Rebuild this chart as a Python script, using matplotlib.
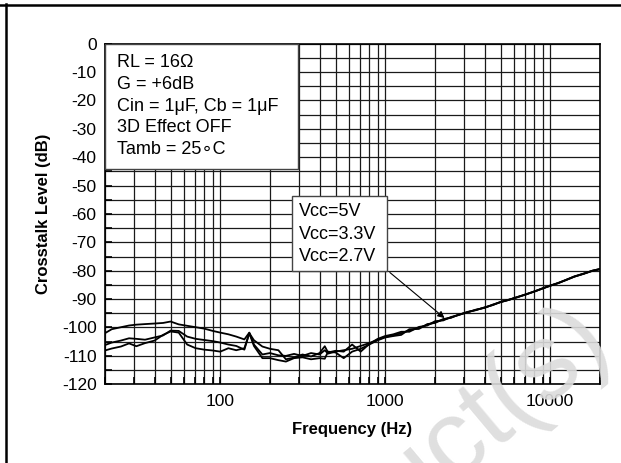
import numpy as np
import matplotlib
matplotlib.use("Agg")
import matplotlib.pyplot as plt
from matplotlib import ticker
from matplotlib.patches import Rectangle
from matplotlib.lines import Line2D

plt.rcParams['font.family'] = ['Liberation Sans', 'DejaVu Sans']
plt.rcParams['axes.unicode_minus'] = False

# frequency points (Hz)
freq = [20, 22, 25, 28, 31, 35, 40, 45, 50, 56, 63, 71, 80, 90, 100, 112, 125, 140,
        150, 160, 180, 200, 225, 250, 280, 315, 355, 400, 430, 450, 500, 560, 630,
        710, 800, 900, 1000, 1120, 1250, 1400, 1600, 1800, 2000, 2250, 2500, 2800,
        3150, 3550, 4000, 4500, 5000, 5600, 6300, 7100, 8000, 9000, 10000, 11200,
        12500, 14000, 16000, 18000, 20000]

# crosstalk level (dB) for the three supply voltages
vcc_5v = [-102.0, -100.6, -99.9, -99.3, -99.0, -98.8, -98.6, -98.4, -97.9, -98.9,
          -99.4, -99.9, -100.4, -101.2, -101.8, -102.4, -103.2, -104.2, -101.8,
          -106.0, -109.5, -109.0, -109.8, -110.0, -109.3, -110.0, -109.0, -109.5,
          -108.0, -109.2, -108.5, -108.0, -107.5, -106.5, -105.5, -104.3, -103.3,
          -102.8, -102.0, -101.0, -100.2, -99.0, -98.2, -97.2, -96.5, -95.5, -94.6,
          -93.8, -93.0, -92.0, -91.0, -90.3, -89.3, -88.4, -87.3, -86.2, -85.3,
          -84.3, -83.2, -82.1, -81.0, -80.0, -79.4]
vcc_3v3 = [-106.2, -105.3, -104.6, -103.8, -104.0, -104.3, -103.5, -102.8, -101.1,
           -101.2, -103.2, -104.0, -104.4, -104.8, -105.3, -106.0, -106.5, -107.8,
           -102.0, -104.5, -106.7, -107.5, -108.0, -111.2, -110.6, -109.5, -110.2,
           -109.0, -106.6, -108.8, -108.2, -108.5, -106.0, -108.5, -105.8, -104.0,
           -103.0, -102.4, -101.5, -101.5, -99.8, -99.3, -97.8, -97.5, -96.3, -95.6,
           -94.5, -93.9, -92.9, -92.1, -91.0, -90.2, -89.4, -88.3, -87.4, -86.2,
           -85.2, -84.4, -83.2, -82.0, -81.0, -80.1, -79.5]
vcc_2v7 = [-108.1, -107.4, -106.7, -105.6, -106.6, -105.5, -104.6, -102.6, -101.4,
           -101.8, -106.0, -107.3, -107.8, -108.1, -108.5, -107.3, -108.0, -107.3,
           -102.0, -106.5, -110.8, -110.8, -111.5, -112.0, -110.8, -110.5, -111.2,
           -110.8, -111.0, -108.5, -108.8, -110.8, -108.5, -107.5, -106.0, -104.5,
           -103.5, -103.0, -102.6, -100.6, -100.5, -98.8, -98.4, -97.0, -96.6, -95.4,
           -94.7, -93.7, -93.1, -91.9, -91.1, -90.3, -89.3, -88.4, -87.3, -86.3,
           -85.3, -84.3, -83.3, -82.1, -81.1, -80.0, -79.4]

legend_lines = ["RL = 16\u03a9", "G = +6dB", "Cin = 1\u03bcF, Cb = 1\u03bcF",
                "3D Effect OFF", "Tamb = 25\u2218C"]
vcc_labels = ["Vcc=5V", "Vcc=3.3V", "Vcc=2.7V"]

fig = plt.figure(figsize=(6.21, 4.63), dpi=100)
ax = fig.add_axes([0.169, 0.170, 0.797, 0.736])

for y in (vcc_5v, vcc_3v3, vcc_2v7):
    ax.plot(freq, y, color='black', lw=1.3, zorder=3)

ax.set_xscale('log')
ax.set_xlim(20, 20000)
ax.set_ylim(-120, 0)
ax.xaxis.set_major_locator(ticker.FixedLocator([100, 1000, 10000]))
ax.xaxis.set_major_formatter(ticker.FixedFormatter(['100', '1000', '10000']))
ax.xaxis.set_minor_locator(ticker.LogLocator(base=10, subs=np.arange(2, 10)))
ax.xaxis.set_minor_formatter(ticker.NullFormatter())
ax.yaxis.set_major_locator(ticker.MultipleLocator(10))
ax.yaxis.set_minor_locator(ticker.MultipleLocator(5))
ax.grid(True, which='both', color='#1a1a1a', lw=0.9, zorder=1)
ax.set_axisbelow(True)
ax.tick_params(which='both', direction='in', length=5, width=1.2, labelsize=12.5)
ax.tick_params(axis='y', pad=6)
ax.tick_params(axis='x', pad=7)
for s in ax.spines.values():
    s.set_linewidth(1.2)
    s.set_color('black')

ax.set_xlabel('Frequency (Hz)', fontsize=12, fontweight='bold', labelpad=9)
ax.set_ylabel('Crosstalk Level (dB)', fontsize=12, fontweight='bold', labelpad=8)

# condition box
ax.add_patch(Rectangle((0, 0.632), 0.39, 0.368, transform=ax.transAxes,
                       facecolor='white', edgecolor='#444444', lw=1, zorder=4))
for i, t in enumerate(legend_lines):
    ax.text(0.024, 0.943 - i * 0.0635, t, transform=ax.transAxes, fontsize=13,
            va='center', ha='left', zorder=5)

# supply voltage box with arrow
ax.add_patch(Rectangle((272, -80), 1030 - 272, 26.2, facecolor='white',
                       edgecolor='#444444', lw=1, zorder=4))
for i, t in enumerate(vcc_labels):
    ax.text(300, -59.3 - i * 7.9, t, fontsize=13, va='center', ha='left', zorder=5)
ax.annotate('', xy=(2356, -97.3), xytext=(1035, -80),
            arrowprops=dict(arrowstyle='-|>', color='black', lw=0.8,
                            mutation_scale=10), zorder=6)

# page frame lines
fig.add_artist(Line2D([0, 1], [1 - 5 / 463, 1 - 5 / 463], color='black', lw=1.8))
fig.add_artist(Line2D([6 / 621, 6 / 621], [0, 1 - 4 / 463], color='black', lw=1.8))

# watermark
fig.text(0.99, 0.245, 'Obsolete Product(s)', fontsize=78, color='#dcdcdc',
         rotation=40, rotation_mode='anchor', ha='right', va='baseline',
         alpha=0.9, zorder=10)

fig.savefig('out.png', dpi=100)
